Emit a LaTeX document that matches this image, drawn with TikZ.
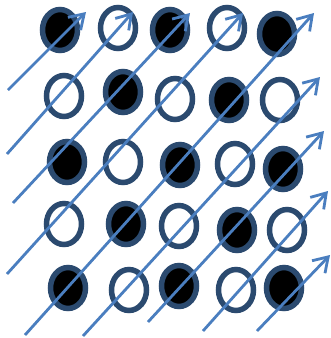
\documentclass[tikz,border=0pt]{standalone}
\usepackage{tikz}
\usetikzlibrary{
  calc,
  positioning,
  arrows.meta,
  shapes.geometric}
\definecolor{ringblue}{HTML}{2B4A6F}
\definecolor{arrowblue}{HTML}{4A7EBF}

\begin{document}
\begin{tikzpicture}[
  x=1pt,y=-1pt,
  ring/.style={ellipse,draw=ringblue,line width=5.5pt,minimum width=35pt,minimum height=41pt,inner sep=0pt},
  full/.style={ring,fill=black},
  hollow/.style={ring,fill=white},
  flow/.style={-{Straight Barb[length=14pt,width=18pt]},draw=arrowblue,line width=2.8pt}
]%
  \useasboundingbox (0,0) rectangle (331,338);

  \node[full]   (e11) at (60,30)   {};
  \node[hollow] (e12) at (118,28)  {};
  \node[full]   (e13) at (170,30)  {};
  \node[hollow] (e14) at (227,28)  {};
  \node[full]   (e15) at (277,34)  {};

  \node[hollow] (e21) at (64,96)   {};
  \node[full]   (e22) at (123,92)  {};
  \node[hollow] (e23) at (175,99)  {};
  \node[full]   (e24) at (229,100) {};
  \node[hollow] (e25) at (280,100) {};

  \node[full]   (e31) at (67,162)  {};
  \node[hollow] (e32) at (123,162) {};
  \node[full]   (e33) at (180,165) {};
  \node[hollow] (e34) at (235,164) {};
  \node[full]   (e35) at (283,169) {};

  \node[hollow] (e41) at (64,224)  {};
  \node[full]   (e42) at (126,224) {};
  \node[hollow] (e43) at (179,226) {};
  \node[full]   (e44) at (237,230) {};
  \node[hollow] (e45) at (287,230) {};

  \node[full]   (e51) at (68,288)  {};
  \node[hollow] (e52) at (129,290) {};
  \node[full]   (e53) at (179,286) {};
  \node[hollow] (e54) at (236,290) {};
  \node[full]   (e55) at (284,288) {};

  \coordinate (s1) at (8,90);    \coordinate (t1) at (86,12);
  \coordinate (s2) at (7,154);   \coordinate (t2) at (133,12);
  \coordinate (s3) at (13,203);  \coordinate (t3) at (190,13);
  \coordinate (s4) at (7,274);   \coordinate (t4) at (243,13);
  \coordinate (s5) at (25,335);  \coordinate (t5) at (314,13);
  \coordinate (s6) at (83,336);  \coordinate (t6) at (320,77);
  \coordinate (s7) at (148,322); \coordinate (t7) at (324,131);
  \coordinate (s8) at (203,331); \coordinate (t8) at (328,191);
  \coordinate (s9) at (257,331); \coordinate (t9) at (330,255);

  \draw[flow] (s1) -- (t1);
  \draw[flow] (s2) -- (t2);
  \draw[flow] (s3) -- (t3);
  \draw[flow] (s4) -- (t4);
  \draw[flow] (s5) -- (t5);
  \draw[flow] (s6) -- (t6);
  \draw[flow] (s7) -- (t7);
  \draw[flow] (s8) -- (t8);
  \draw[flow] (s9) -- (t9);

\end{tikzpicture}
\end{document}
